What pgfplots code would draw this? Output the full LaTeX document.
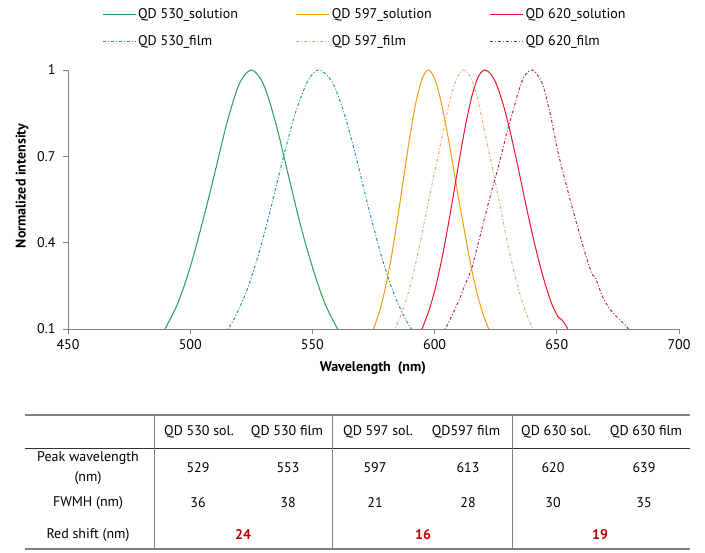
\documentclass[border=0pt]{standalone}
\usepackage{fontspec}
\setmainfont{PT Sans}
\usepackage{pgfplots}
\pgfplotsset{compat=1.18}

\definecolor{gsol}{RGB}{34,160,90}
\definecolor{gfilm}{RGB}{40,150,150}
\definecolor{osol}{RGB}{245,155,20}
\definecolor{ofilm}{RGB}{236,170,115}
\definecolor{rsol}{RGB}{235,20,40}
\definecolor{rfilm}{RGB}{190,40,80}
\definecolor{axgray}{RGB}{128,128,128}
\definecolor{shift}{RGB}{192,0,0}

\tikzset{dd/.style={dash pattern=on 3bp off 2bp on 1bp off 2bp}}
\newcommand{\fs}{\fontsize{14bp}{16bp}\selectfont}

\begin{document}
\begin{tikzpicture}[x=1bp,y=1bp,font=\fs]
\path[use as bounding box] (0,0) rectangle (705,553);
\begin{axis}[
    scale only axis,
    width=611bp, height=259bp,
    at={(68bp,224bp)}, anchor=south west,
    xmin=450, xmax=700, ymin=0.1, ymax=1,
    xtick={450,500,550,600,650,700},
    ytick={0.1,0.4,0.7,1},
    axis x line*=bottom, axis y line*=left,
    axis line style={axgray, line width=0.8bp},
    tick style={axgray, line width=0.8bp},
    tick align=outside, major tick length=5bp,
    /pgf/number format/assume math mode=true,
    ticklabel style={font=\fs},
    xticklabel style={yshift=-2bp},
    yticklabel style={xshift=-4bp},
    xlabel={\bfseries Wavelength\ \ (nm)},
    ylabel={\bfseries Normalized intensity},
    label style={font=\fs},
    xlabel style={at={(axis description cs:0.499,-0.151)}, anchor=center},
    ylabel style={at={(axis description cs:-0.0753,0.552)}, anchor=center},
    legend columns=3,
    legend cell align=left,
    legend style={draw=none, fill=none, inner sep=0pt,
        at={(axis description cs:0.0556,1.246)}, anchor=north west,
        font=\fs,
        row sep=12bp,
        /tikz/every even column/.append style={column sep=56bp}},
    legend image code/.code={\draw[#1] (0bp,0bp) -- (33bp,0bp);},
    every axis plot/.append style={line width=1bp},
]
% legend fills row by row: solutions first, then films
\addplot[draw=gsol, smooth] coordinates {
(488,0.075) (490,0.105) (495,0.191) (500,0.315) (505,0.470) (510,0.640)
(515,0.815) (520,0.950) (525,1) (530,0.950) (535,0.815) (540,0.640)
(545,0.465) (550,0.315) (555,0.191) (560,0.105) (562,0.080)};
\addlegendentry{QD 530\_solution}

\addplot[draw=osol, smooth] coordinates {
(574,0.082) (575,0.1007) (577.5,0.163) (580,0.249) (582.5,0.360) (585,0.492)
(587.5,0.635) (590,0.775) (592.5,0.893) (595,0.972) (597.5,1)
(600,0.970) (602.5,0.895) (605,0.790) (607.5,0.670) (610,0.545) (612.5,0.427)
(615,0.314) (617.5,0.220) (620,0.147) (622.5,0.094) (624,0.075)};
\addlegendentry{QD 597\_solution}

\addplot[draw=rsol, smooth] coordinates {
(593,0.080) (594.5,0.096) (595.5,0.114) (598,0.172) (600.5,0.249) (603,0.345)
(605.5,0.458) (608,0.581) (610.5,0.707) (613,0.823) (615.5,0.917) (618,0.979)
(620.5,1) (623,0.986) (625.5,0.946) (628,0.882) (630.5,0.801) (633,0.707)
(635.5,0.607) (638,0.506) (640.5,0.411) (643,0.325) (645.5,0.249) (648,0.186)
(650.5,0.142) (651.5,0.136) (653,0.122) (654.5,0.100) (656,0.080)};
\addlegendentry{QD 620\_solution}

\addplot[draw=gfilm, dd, smooth] coordinates {
(514,0.085) (515,0.095) (518,0.135) (523,0.230) (528,0.360) (533,0.520)
(538,0.693) (543,0.849) (548,0.960) (552.5,1) (558,0.960) (563,0.849)
(568,0.693) (573,0.520) (578,0.360) (583,0.230) (588,0.135) (591,0.095)
(593,0.080)};
\addlegendentry{QD 530\_film}

\addplot[draw=ofilm, dd, smooth] coordinates {
(583,0.0895) (585,0.123) (588,0.191) (591,0.282) (594,0.395) (597,0.524)
(600,0.645) (603,0.765) (606,0.885) (609,0.970) (612,1) (615,0.970)
(618,0.885) (621,0.765) (624,0.645) (627,0.520) (630,0.390) (633,0.282)
(636,0.191) (639,0.123) (641,0.0895)};
\addlegendentry{QD 597\_film}

\addplot[draw=rfilm, dd, smooth] coordinates {
(603,0.085) (604.3,0.100) (607,0.145) (610,0.200) (612.5,0.255) (615.2,0.311)
(618.5,0.420) (622,0.537) (624.5,0.615) (626.8,0.687) (629.5,0.780) (632.2,0.861)
(634.5,0.930) (636.5,0.975) (638.5,0.995) (640,1) (641.5,0.990) (643,0.970)
(644.5,0.942) (647.5,0.840) (650.6,0.710) (654.5,0.580) (658.1,0.467) (661,0.380)
(664.3,0.293) (665.6,0.282) (667,0.250) (669,0.207) (671,0.178) (673.1,0.155)
(676,0.130) (678.6,0.108) (680,0.092) (681,0.080)};
\addlegendentry{QD 620\_film}
\end{axis}

% table below the chart
\draw[axgray, line width=2bp] (25,138) -- (690,138);
\draw[black!80, line width=1bp] (25,104) -- (690,104);
\draw[axgray, line width=2bp] (25,4) -- (690,4);
\foreach \xv in {154,332,512} \draw[axgray, line width=0.8bp] (\xv,138) -- (\xv,4);

\node at (199,121) {QD 530 sol.};
\node at (287,121) {QD 530 film};
\node at (378,121) {QD 597 sol.};
\node at (466,121) {QD597 film};
\node at (556,121) {QD 630 sol.};
\node at (646,121) {QD 630 film};

\node at (88,95) {Peak wavelength};
\node at (88,75) {(nm)};
\node at (88,50) {FWMH (nm)};
\node at (88,18) {Red shift (nm)};

\node at (198,85) {529};
\node at (288,85) {553};
\node at (375,85) {597};
\node at (468,85) {613};
\node at (553,85) {620};
\node at (644,85) {639};

\node at (198,50) {36};
\node at (288,50) {38};
\node at (375,50) {21};
\node at (468,50) {28};
\node at (553,50) {30};
\node at (644,50) {35};

\node[text=shift, font=\fs\bfseries] at (243,18) {24};
\node[text=shift, font=\fs\bfseries] at (423,18) {16};
\node[text=shift, font=\fs\bfseries] at (600,18) {19};
\end{tikzpicture}
\end{document}
